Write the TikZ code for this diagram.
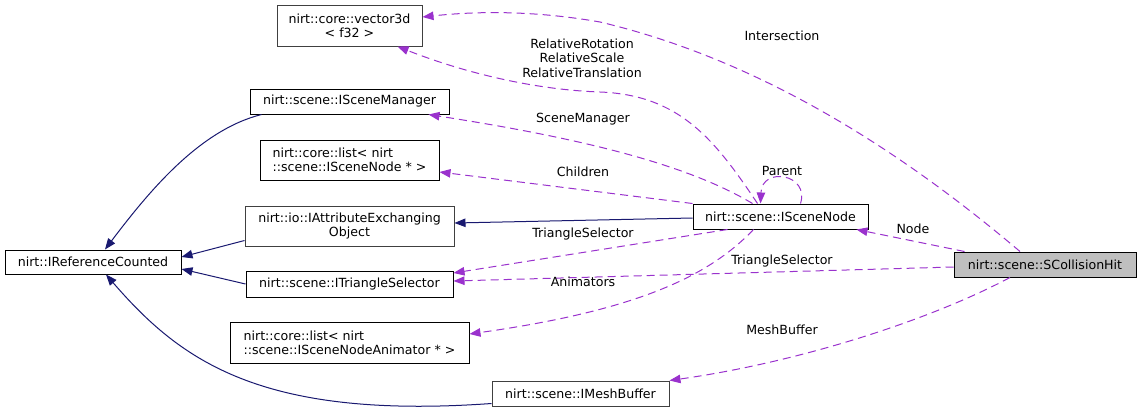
\documentclass[tikz,border=0pt]{standalone}
\usepackage{fontspec}
\setmainfont{DejaVu Sans}
\usetikzlibrary{arrows.meta, positioning}

\definecolor{inhblue}{HTML}{191970}
\definecolor{usepurple}{HTML}{9A32CD}

\begin{document}
\begin{tikzpicture}[x=1pt, y=-1pt, >={Triangle[length=11pt, width=8.5pt]},
  every node/.style={font=\fontsize{12.6}{14.4}\selectfont, inner sep=0pt},
  cls/.style={draw=black, fill=white, line width=1pt},
  inh/.style={->, draw=inhblue, line width=1pt},
  usage/.style={->, draw=usepurple, line width=1pt, dash pattern=on 8pt off 5pt},
  lbl/.style={align=center}]
\useasboundingbox (0,0) rectangle (1141,413);

% classes
\node (vec) [cls, draw=black!75, minimum width=145pt, minimum height=41pt, align=center] at (349.5,25.5) {nirt::core::vector3d\\< f32 >};
\node (mgr) [cls, minimum width=199pt, minimum height=25pt] at (349.5,101.5) {nirt::scene::ISceneManager};
\node (lnode) [cls, minimum width=179pt, minimum height=40pt, align=left] at (349.5,160) {nirt::core::list< nirt\\::scene::ISceneNode * >};
\node (refc) [cls, minimum width=176pt, minimum height=24pt] at (93,262) {nirt::IReferenceCounted};
\node (attr) [cls, draw=black!75, minimum width=209pt, minimum height=40pt, align=center] at (349.5,226) {nirt::io::IAttributeExchanging\\Object};
\node (tri) [cls, minimum width=207pt, minimum height=26pt] at (349.5,284) {nirt::scene::ITriangleSelector};
\node (lanim) [cls, minimum width=239pt, minimum height=41pt, align=left] at (349.5,342.5) {nirt::core::list< nirt\\::scene::ISceneNodeAnimator * >};
\node (mesh) [cls, draw=black!75, minimum width=177pt, minimum height=25pt] at (580.5,393.5) {nirt::scene::IMeshBuffer};
\node (snode) [cls, minimum width=175pt, minimum height=25pt] at (780.5,216.5) {nirt::scene::ISceneNode};
\node (hit) [cls, fill=black!25, minimum width=182pt, minimum height=25pt] at (1045,264.5) {nirt::scene::SCollisionHit};

% inheritance
\draw[inh] ([xshift=12pt]mgr.south west) .. controls (200,130) and (150,190) .. ([xshift=12pt]refc.north);
\draw[inh] ([yshift=6pt]attr.south west) -- ([yshift=5pt]refc.east);
\draw[inh] (tri.west) -- ([yshift=-7pt]refc.east);
\draw[inh] ([yshift=-10pt]mesh.west) .. controls (260,420) and (180,360) .. ([xshift=13pt]refc.south);
\draw[inh] ([yshift=-1.5pt]snode.west) -- ([yshift=3pt]attr.east);

% members of ISceneNode
\draw[usage] ([xshift=-23pt]snode.north) .. controls (715,140) and (680,95) .. (600,92)
  .. controls (540,90) and (470,75) .. ([xshift=48pt]vec.south);
\draw[usage] ([xshift=-28pt]snode.north) .. controls (680,160) and (560,135) .. ([xshift=-21pt]mgr.south east);
\draw[usage] (snode.north west) -- ([yshift=-12pt]lnode.east);
\draw[usage] ([xshift=20pt]snode.north) .. controls (810,174) and (762,166) .. ([xshift=-20pt]snode.north);
\draw[usage] ([xshift=-53pt]snode.south) -- ([yshift=11pt]tri.east);
\draw[usage] ([xshift=-27pt]snode.south) .. controls (710,275) and (640,310) .. ([yshift=8.5pt]lanim.east);

% members of SCollisionHit
\draw[usage] ([xshift=-25pt]hit.north) .. controls (900,150) and (760,60) .. (600,22)
  .. controls (520,8) and (460,13) .. ([yshift=8.5pt]vec.east);
\draw[usage] ([xshift=11pt]hit.north west) -- ([xshift=-12pt]snode.south east);
\draw[usage] ([yshift=-2.5pt]hit.west) -- ([yshift=3pt]tri.east);
\draw[usage] ([xshift=-35pt]hit.south) .. controls (930,320) and (800,362) .. (mesh.north east);

% labels
\node (lrel) [lbl] at (582,58) {RelativeRotation\\RelativeScale\\RelativeTranslation};
\node (lmgr) [lbl] at (583,119) {SceneManager};
\node (lchild) [lbl] at (583,172) {Children};
\node (lpar) [lbl] at (782,171) {Parent};
\node (ltri) [lbl] at (583,234) {TriangleSelector};
\node (lanm) [lbl] at (583,282) {Animators};
\node (lint) [lbl] at (782,36) {Intersection};
\node (lnd) [lbl] at (913,229) {Node};
\node (ltri2) [lbl] at (782,261) {TriangleSelector};
\node (lmb) [lbl] at (782,330) {MeshBuffer};
\end{tikzpicture}
\end{document}
